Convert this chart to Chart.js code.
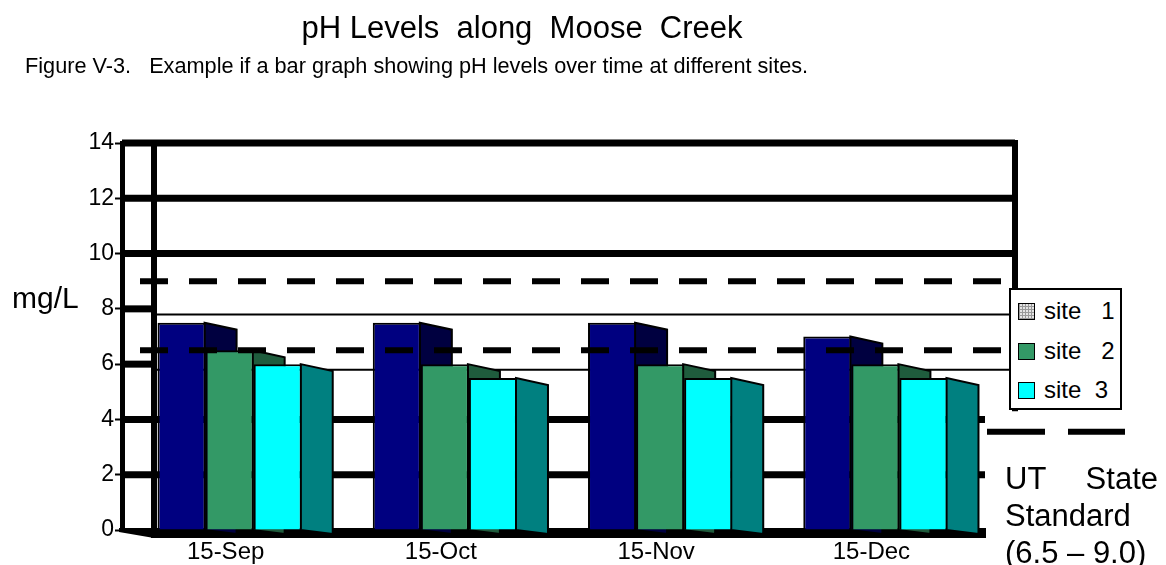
<!DOCTYPE html>
<html>
<head>
<meta charset="utf-8">
<script src="https://cdn.jsdelivr.net/npm/chart.js@4/dist/chart.umd.min.js"></script>
<style>
  body { margin: 0; background: #fff; font-family: 'Liberation Sans', Arial, sans-serif; color: #000; }
  #wrap { position: relative; width: 1166px; height: 565px; overflow: hidden; }
  #chart { position: absolute; left: 0; top: 0; }
  .txt { position: absolute; white-space: pre; line-height: 1; }
  #title { left: 0; width: 1044px; top: 12px; text-align: center; font-size: 31px; }
  #caption { left: 25px; top: 55px; font-size: 21.7px; }
  #unit { left: 12px; top: 283px; font-size: 30px; }
  #legend { position: absolute; left: 1009px; top: 288px; width: 109px; height: 118px;
            border: 2px solid #000; background: #fff; }
  .row { position: absolute; left: 7px; font-size: 24px; line-height: 24px; white-space: pre; }
  .sw { display: inline-block; width: 15px; height: 15px; border: 1px solid #000;
        margin-right: 9px; vertical-align: -1px; }
  #std { position: absolute; left: 1005px; top: 460px; width: 153px; font-size: 31px; line-height: 37px; }
  #std .first { display: flex; justify-content: space-between; }
</style>
</head>
<body>
<div id="wrap">
  <canvas id="chart" width="1166" height="565"></canvas>
  <div id="title" class="txt">pH Levels  along  Moose  Creek</div>
  <div id="caption" class="txt">Figure V-3.   Example if a bar graph showing pH levels over time at different sites.</div>
  <div id="unit" class="txt">mg/L</div>
  <div id="legend"></div>
  <div id="std"><div class="first"><span>UT</span><span>State</span></div><div>Standard</div><div>(6.5 – 9.0)</div></div>
</div>
<script>
// pH readings per sampling date
const dates = ['15-Sep', '15-Oct', '15-Nov', '15-Dec'];
const site1 = [7.5, 7.5, 7.5, 7.0];
const site2 = [6.5, 6.0, 6.0, 6.0];
const site3 = [6.0, 5.5, 5.5, 5.5];
const siteNames = ['site   1', 'site   2', 'site  3'];

// UT state standard range and the two thin guide lines on the back wall
const standardLow = 6.5;
const standardHigh = 9.0;
const guideLines = [7.8, 5.8];

const frontColors = ['#000080', '#339966', '#00ffff'];
const sideColors = ['#000040', '#1f5c3d', '#008080'];
const depthX = 32, depthY = 7; // fake 3d depth

function line(ctx, x1, y1, x2, y2) {
  ctx.beginPath();
  ctx.moveTo(x1, y1);
  ctx.lineTo(x2, y2);
  ctx.stroke();
}

const wallPlugin = {
  id: 'wall',
  beforeDatasetsDraw(chart) {
    const {ctx, chartArea: a, scales: {y}} = chart;
    const wallX = a.left + depthX;
    const backRight = a.right + depthX;
    const base = y.getPixelForValue(0);
    ctx.save();
    ctx.strokeStyle = '#000';
    ctx.fillStyle = '#000';
    // grid lines, long ones on the back wall, short ones only on the side wall
    ctx.lineWidth = 7;
    y.ticks.forEach(t => {
      const v = t.value;
      if (v === 0) return;
      const py = y.getPixelForValue(v);
      let x2 = a.right + 2;
      if (v >= 10) x2 = backRight;
      else if (v >= 6) x2 = wallX;
      line(ctx, a.left, py, x2, py);
    });
    ctx.lineWidth = 2;
    guideLines.forEach(v => {
      const py = y.getPixelForValue(v);
      line(ctx, wallX, py, backRight, py);
    });
    // wall edges
    ctx.lineWidth = 6;
    line(ctx, wallX, a.top - 3, wallX, a.bottom + 8);
    line(ctx, backRight, a.top - 3, backRight, y.getPixelForValue(4.3));
    // floor
    ctx.beginPath();
    ctx.moveTo(a.left - 3, a.bottom - 2);
    ctx.lineTo(a.right + 3, a.bottom - 2);
    ctx.lineTo(a.right + 3, a.bottom + 8);
    ctx.lineTo(wallX, a.bottom + 8);
    ctx.lineTo(a.left - 3, a.bottom + 2);
    ctx.closePath();
    ctx.fill();

    // side faces of the bars, the front faces get drawn over them
    ctx.strokeStyle = '#000';
    ctx.lineWidth = 2;
    chart.data.datasets.forEach((ds, i) => {
      ctx.fillStyle = sideColors[i];
      chart.getDatasetMeta(i).data.forEach(bar => {
        const xr = bar.x + bar.width / 2 - 1;
        ctx.beginPath();
        ctx.moveTo(xr, bar.y);
        ctx.lineTo(xr + depthX, bar.y + depthY);
        ctx.lineTo(xr + depthX, base + 4);
        ctx.lineTo(xr, base);
        ctx.closePath();
        ctx.fill();
        ctx.stroke();
      });
    });
    ctx.restore();
  },
  afterDatasetsDraw(chart) {
    const {ctx, chartArea: a, scales: {y}} = chart;
    ctx.save();
    ctx.strokeStyle = '#000';
    ctx.lineWidth = 6;
    ctx.setLineDash([28, 21]);
    [standardHigh, standardLow].forEach(v => {
      const py = y.getPixelForValue(v);
      line(ctx, a.left + 18, py, a.right + 20, py);
    });
    // legend sample for the standard
    ctx.setLineDash([58, 23]);
    const py = y.getPixelForValue(3.55);
    line(ctx, a.right + 4, py, a.right + 142, py);
    ctx.restore();
  }
};

Chart.defaults.font.family = "'Liberation Sans', Arial, sans-serif";
Chart.defaults.color = '#000';

new Chart(document.getElementById('chart'), {
  type: 'bar',
  data: {
    labels: dates,
    datasets: [
      {label: siteNames[0], data: site1, backgroundColor: frontColors[0]},
      {label: siteNames[1], data: site2, backgroundColor: frontColors[1]},
      {label: siteNames[2], data: site3, backgroundColor: frontColors[2]}
    ]
  },
  options: {
    responsive: false,
    animation: false,
    events: [],
    layout: {padding: {left: 72, right: 183, top: 143, bottom: 0}},
    datasets: {
      bar: {
        borderColor: '#000',
        borderWidth: 2,
        categoryPercentage: 0.67,
        barPercentage: 1
      }
    },
    plugins: {
      legend: {display: false},
      tooltip: {enabled: false}
    },
    scales: {
      x: {
        grid: {display: false},
        border: {display: false},
        ticks: {font: {size: 24}, padding: 0, labelOffset: -4, maxRotation: 0},
        afterFit(s) { s.height = 35; }
      },
      y: {
        min: 0,
        max: 14,
        ticks: {stepSize: 2, font: {size: 23}, padding: 1},
        grid: {drawOnChartArea: false, tickLength: 7, tickWidth: 2, tickColor: '#000'},
        border: {display: true, color: '#000', width: 5},
        afterFit(s) { s.width = 50; }
      }
    }
  },
  plugins: [wallPlugin]
});

// legend box
const legend = document.getElementById('legend');
const swatchStyles = [
  'background:#e4e4e4;background-image:repeating-linear-gradient(0deg,#999 0 1px,transparent 1px 3px),repeating-linear-gradient(90deg,#999 0 1px,transparent 1px 3px);',
  'background:' + frontColors[1] + ';',
  'background:' + frontColors[2] + ';'
];
siteNames.forEach((name, i) => {
  const row = document.createElement('div');
  row.className = 'row';
  row.style.top = (9 + i * 39.5) + 'px';
  row.innerHTML = '<span class="sw" style="' + swatchStyles[i] + '"></span>' + name;
  legend.appendChild(row);
});
</script>
</body>
</html>
